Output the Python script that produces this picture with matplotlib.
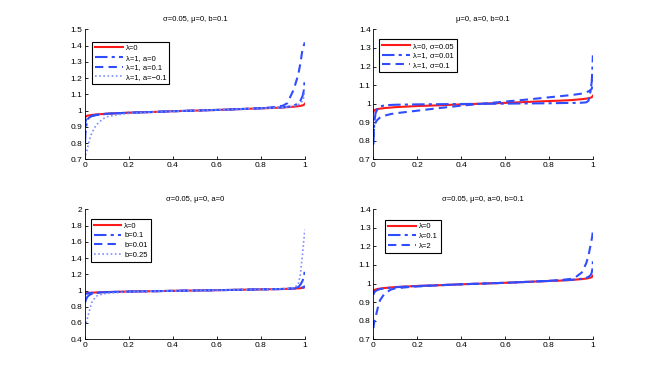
import matplotlib
matplotlib.use("Agg")
import matplotlib.pyplot as plt

plt.rcParams['font.family'] = ['Liberation Sans', 'DejaVu Sans']

x = [0, 0.002, 0.005, 0.01, 0.02, 0.03, 0.05, 0.08, 0.1, 0.15, 0.2, 0.3, 0.4, 0.5,
     0.6, 0.7, 0.8, 0.85, 0.9, 0.92, 0.95, 0.97, 0.98, 0.99, 0.995, 0.998, 1.0]

red_base = [0.955, 0.962, 0.965, 0.968, 0.971, 0.973, 0.976, 0.979, 0.981, 0.984, 0.987,
            0.991, 0.996, 1.000, 1.004, 1.009, 1.014, 1.016, 1.019, 1.021, 1.024, 1.027,
            1.029, 1.032, 1.035, 1.038, 1.042]

# Panel 1: sigma=0.05, mu=0, b=0.1
p1_dashdot = [0.80, 0.86, 0.90, 0.945, 0.958, 0.965, 0.972, 0.977, 0.980, 0.984, 0.987,
              0.991, 0.996, 1.000, 1.004, 1.009, 1.014, 1.017, 1.020, 1.023, 1.030, 1.045,
              1.06, 1.09, 1.12, 1.16, 1.20]
p1_dashed = [0.90, 0.93, 0.945, 0.955, 0.963, 0.968, 0.974, 0.978, 0.981, 0.984, 0.987,
             0.991, 0.996, 1.000, 1.004, 1.009, 1.015, 1.020, 1.030, 1.045, 1.13, 1.22,
             1.29, 1.38, 1.40, 1.41, 1.42]
p1_dotted = [0.70, 0.72, 0.74, 0.76, 0.82, 0.86, 0.91, 0.948, 0.962, 0.975, 0.982,
             0.990, 0.995, 1.000, 1.004, 1.009, 1.014, 1.016, 1.020, 1.022, 1.028, 1.036,
             1.045, 1.06, 1.08, 1.10, 1.13]

# Panel 2: mu=0, a=0, b=0.1
p2_dashdot = [0.78, 0.86, 0.91, 0.95, 0.975, 0.985, 0.990, 0.993, 0.994, 0.995, 0.996,
              0.997, 0.998, 0.999, 1.000, 1.001, 1.002, 1.003, 1.004, 1.004, 1.005, 1.007,
              1.015, 1.07, 1.12, 1.19, 1.26]
p2_dashed = [0.82, 0.86, 0.88, 0.90, 0.915, 0.925, 0.935, 0.944, 0.948, 0.955, 0.962,
             0.976, 0.989, 1.000, 1.011, 1.022, 1.034, 1.040, 1.046, 1.049, 1.054, 1.062,
             1.066, 1.074, 1.08, 1.10, 1.13]

# Panel 3: sigma=0.05, mu=0, a=0
p3_dashdot = [0.85, 0.87, 0.89, 0.92, 0.945, 0.958, 0.970, 0.976, 0.979, 0.983, 0.987,
              0.991, 0.996, 1.000, 1.004, 1.009, 1.014, 1.016, 1.019, 1.022, 1.028, 1.042,
              1.07, 1.12, 1.16, 1.20, 1.25]
p3_dashed = [0.95, 0.955, 0.96, 0.964, 0.968, 0.971, 0.975, 0.978, 0.980, 0.984, 0.987,
             0.991, 0.996, 1.000, 1.004, 1.009, 1.014, 1.016, 1.019, 1.021, 1.025, 1.029,
             1.032, 1.037, 1.042, 1.048, 1.06]
p3_dotted = [0.55, 0.57, 0.60, 0.65, 0.75, 0.85, 0.93, 0.958, 0.965, 0.975, 0.982,
             0.990, 0.995, 1.000, 1.004, 1.009, 1.014, 1.017, 1.022, 1.026, 1.035, 1.07,
             1.20, 1.45, 1.60, 1.68, 1.75]

# Panel 4: sigma=0.05, mu=0, a=0, b=0.1
p4_dashdot = [0.94, 0.948, 0.954, 0.96, 0.966, 0.970, 0.974, 0.978, 0.980, 0.984, 0.987,
              0.991, 0.996, 1.000, 1.004, 1.009, 1.014, 1.017, 1.020, 1.022, 1.026, 1.031,
              1.036, 1.045, 1.06, 1.08, 1.12]
p4_dashed = [0.76, 0.78, 0.80, 0.82, 0.87, 0.91, 0.945, 0.968, 0.974, 0.980, 0.984,
             0.991, 0.996, 1.000, 1.004, 1.009, 1.015, 1.019, 1.025, 1.033, 1.06, 1.11,
             1.15, 1.21, 1.24, 1.26, 1.29]

titles = ["σ=0.05, μ=0, b=0.1", "μ=0, a=0, b=0.1", "σ=0.05, μ=0, a=0", "σ=0.05, μ=0, a=0, b=0.1"]
legends = [["λ=0", "λ=1, a=0", "λ=1, a=0.1", "λ=1, a=−0.1"],
           ["λ=0, σ=0.05", "λ=1, σ=0.01", "λ=1, σ=0.1"],
           ["λ=0", "b=0.1", "b=0.01", "b=0.25"],
           ["λ=0", "λ=0.1", "λ=2"]]
ylims = [(0.7, 1.5), (0.7, 1.4), (0.4, 2.0), (0.7, 1.4)]
yticks = [[0.7, 0.8, 0.9, 1.0, 1.1, 1.2, 1.3, 1.4, 1.5],
          [0.7, 0.8, 0.9, 1.0, 1.1, 1.2, 1.3, 1.4],
          [0.4, 0.6, 0.8, 1.0, 1.2, 1.4, 1.6, 1.8, 2.0],
          [0.7, 0.8, 0.9, 1.0, 1.1, 1.2, 1.3, 1.4]]
xticks = [0, 0.2, 0.4, 0.6, 0.8, 1]
series = [[red_base, p1_dashdot, p1_dashed, p1_dotted],
          [red_base, p2_dashdot, p2_dashed],
          [red_base, p3_dashdot, p3_dashed, p3_dotted],
          [red_base, p4_dashdot, p4_dashed]]

RED = '#ff1a1a'
BLUE = '#2f4dff'
LBLUE = '#7f8fff'
styles = [dict(color=RED, ls='-', lw=1.5),
          dict(color=BLUE, ls=(0, (6, 2, 1.5, 2)), lw=1.5),
          dict(color=BLUE, ls=(0, (4, 2.5)), lw=1.5),
          dict(color=LBLUE, ls=(0, (1, 1.5)), lw=1.2)]

fig = plt.figure(figsize=(6.54, 3.82), dpi=100)
positions = [[0.130, 0.583, 0.336, 0.340], [0.571, 0.583, 0.3355, 0.340],
             [0.130, 0.112, 0.336, 0.340], [0.571, 0.112, 0.3355, 0.340]]
legpos = [(0.032, 0.905), (0.027, 0.923), (0.026, 0.923), (0.053, 0.918)]

def fmt(v):
    return '%g' % v

for i in range(4):
    ax = fig.add_axes(positions[i])
    for k, ys in enumerate(series[i]):
        ax.plot(x, ys, label=legends[i][k], **styles[k])
    ax.set_xlim(0, 1)
    ax.set_ylim(*ylims[i])
    ax.set_xticks(xticks)
    ax.set_xticklabels([fmt(v) for v in xticks])
    ax.set_yticks(yticks[i])
    ax.set_yticklabels([fmt(v) for v in yticks[i]])
    ax.spines['top'].set_visible(False)
    ax.spines['right'].set_visible(False)
    for s in ['left', 'bottom']:
        ax.spines[s].set_linewidth(0.6)
    ax.tick_params(direction='in', length=2.5, width=0.6, labelsize=6, pad=2)
    ax.set_title(titles[i], fontsize=5.5, pad=6)
    leg = ax.legend(loc='upper left', bbox_to_anchor=legpos[i], fontsize=5.5,
                    frameon=True, fancybox=False, edgecolor='black', framealpha=1,
                    handlelength=3.6, borderpad=0.4, labelspacing=0.3,
                    handletextpad=0.4, borderaxespad=0)
    leg.get_frame().set_linewidth(0.8)

fig.savefig("out.png", dpi=100)
